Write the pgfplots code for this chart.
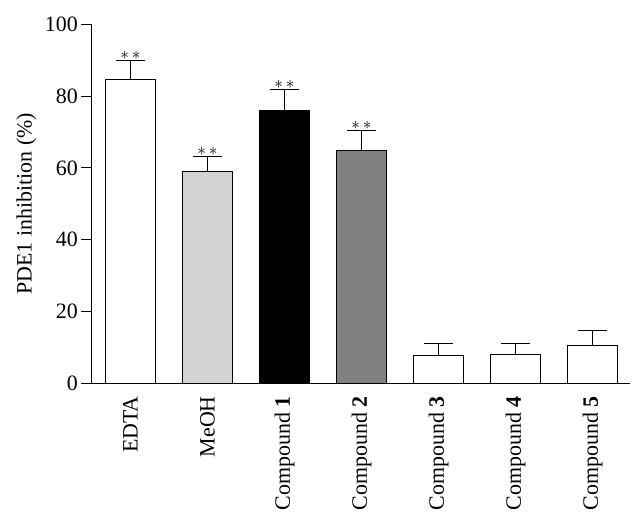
\documentclass[border=0pt]{standalone}
\usepackage{pgfplots}
\pgfplotsset{compat=1.18}
\usepackage{fontspec}
\setmainfont{Liberation Serif}
\definecolor{lgray}{RGB}{211,211,211}
\definecolor{dgray}{RGB}{128,128,128}
\begin{document}
\begin{tikzpicture}
\begin{axis}[
  scale only axis,
  width=539bp, height=358.5bp,
  xmin=-0.513, xmax=6.487,
  ymin=0, ymax=100,
  ytick={0,20,40,60,80,100},
  xtick={0,1,2,3,4,5,6},
  xticklabels={EDTA,MeOH,Compound \textbf{1},Compound \textbf{2},Compound \textbf{3},Compound \textbf{4},Compound \textbf{5}},
  axis x line*=bottom,
  axis y line*=left,
  axis line style={-, line width=0.9bp},
  tick align=outside,
  major tick length=10bp,
  ytick style={line width=0.9bp, black},
  xtick style={draw=none},
  /pgf/number format/assume math mode=true,
  tick label style={font=\fontsize{22}{26}\selectfont},
  xticklabel style={rotate=90, anchor=east, inner sep=3bp},
  yticklabel style={inner sep=3bp},
  ylabel={PDE1 inhibition (\%)},
  ylabel style={yshift=2bp},
  label style={font=\fontsize{22}{26}\selectfont},
  ybar, bar width=50bp,
  every axis plot/.append style={bar shift=0pt, draw=black, line width=0.9bp,
     error bars/y dir=plus, error bars/y explicit,
     error bars/error bar style={line width=0.9bp, black},
     error bars/error mark options={rotate=90, mark size=14.5bp, line width=0.9bp, black}},
]
\addplot[fill=white] coordinates {(0,84.8) +- (0,5.2) (4,7.6) +- (0,3.5) (5,8.1) +- (0,3.0) (6,10.6) +- (0,4.0)};
\addplot[fill=lgray] coordinates {(1,59.1) +- (0,4.1)};
\addplot[fill=black] coordinates {(2,75.9) +- (0,6.0)};
\addplot[fill=dgray] coordinates {(3,65.0) +- (0,5.4)};
\node[above, font=\fontsize{19}{19}\selectfont, inner sep=1bp] at (axis cs:0,90.0) {$\ast\,\ast$};
\node[above, font=\fontsize{19}{19}\selectfont, inner sep=1bp] at (axis cs:1,63.2) {$\ast\,\ast$};
\node[above, font=\fontsize{19}{19}\selectfont, inner sep=1bp] at (axis cs:2,81.9) {$\ast\,\ast$};
\node[above, font=\fontsize{19}{19}\selectfont, inner sep=1bp] at (axis cs:3,70.4) {$\ast\,\ast$};
\end{axis}
\useasboundingbox (-91bp,-140bp) rectangle (553bp,383bp);
\end{tikzpicture}
\end{document}
